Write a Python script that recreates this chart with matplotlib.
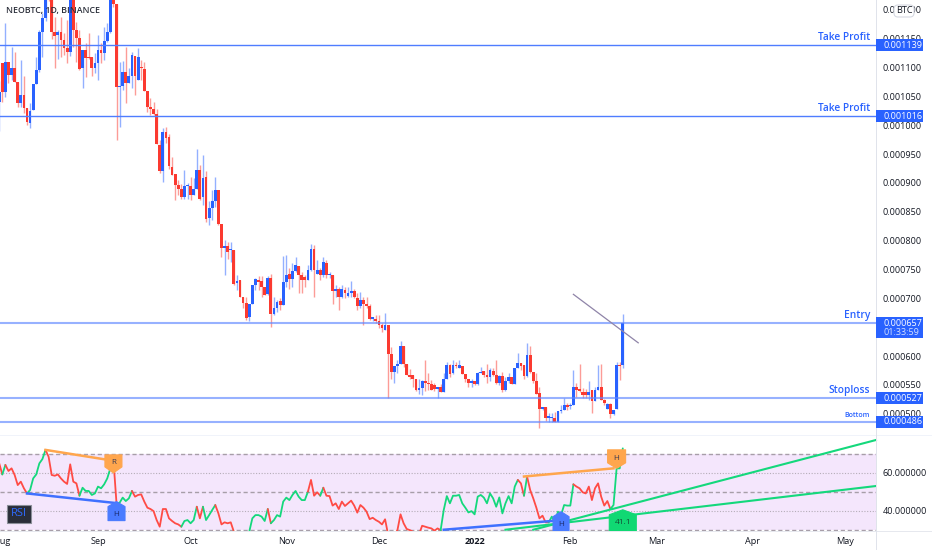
import matplotlib
matplotlib.use("Agg")
import matplotlib.pyplot as plt
import matplotlib.dates as mdates
import numpy as np
import pandas as pd
from matplotlib.patches import Polygon, Rectangle, FancyBboxPatch
from matplotlib.transforms import IdentityTransform

plt.rcParams['font.family'] = ['Open Sans', 'DejaVu Sans']

W, H = 932, 550
# Candles: (open, high, low, close) in millionths of BTC, daily from 2021-07-31
first_day = "2021-07-31"
ohlc_part1 = [
 (1041,1076,990,1058),(1107,1107,1041,1058),(1058,1177,1049,1109),(1109,1109,1073,1087),(1087,1136,1078,1099),
 (1099,1127,1075,1075),(1075,1075,1032,1039),(1039,1113,1032,1052),(1052,1085,1021,1030),(1030,1030,1000,1006),
 (1004,1038,995,1025),(1026,1072,1026,1071),(1071,1119,1071,1096),(1096,1165,1093,1161),(1161,1194,1119,1185),
 (1185,1240,1180,1225),(1245,1260,1215,1225),(1225,1225,1150,1161),(1161,1188,1099,1155),(1156,1165,1114,1161),
 (1161,1188,1119,1148),(1148,1159,1122,1134),(1134,1182,1108,1127),(1127,1240,1120,1230),(1230,1240,1136,1165),
 (1165,1179,1110,1151),(1151,1165,1096,1097),(1099,1131,1064,1131),(1130,1142,1084,1116),(1118,1159,1114,1116),
 (1118,1118,1085,1100),(1100,1125,1090,1107),(1107,1156,1078,1131),(1130,1142,1107,1126),(1126,1171,1113,1146),
 (1146,1177,1145,1161),(1162,1240,1160,1225),(1225,1240,1205,1210),(1210,1210,974,1066),(1066,1110,997,1068),
 (1068,1111,1061,1093),(1093,1136,1038,1074),(1074,1099,1073,1085),(1085,1127,1064,1122),(1120,1120,1052,1085),
 (1078,1133,1078,1119),(1101,1113,1078,1099),(1097,1110,1060,1060),(1060,1060,1023,1032),(1032,1047,1018,1028),
 (1028,1041,1018,1019),(1019,1029,967,967),
]
ohlc_part2 = [
 (966,975,917,920),(921,995,902,988),(988,997,970,978),(980,985,925,929),(928,945,914,914),
 (915,915,871,896),(896,905,879,889),(889,899,873,876),(876,923,873,894),(894,900,873,897),
 (895,911,871,879),(879,908,879,889),(889,958,889,922),(922,931,871,873),(876,948,862,909),
 (910,921,833,838),(839,869,827,856),(856,888,836,868),(868,910,859,888),(888,888,827,829),
 (829,829,771,787),(787,801,740,791),(791,798,769,781),(783,798,763,785),(784,784,723,725),
 (726,741,714,730),(732,732,702,703),(703,703,683,692),(692,703,662,666),(668,691,661,690),
 (690,723,690,723),(723,735,715,733),(732,739,714,729),(730,739,703,720),(719,719,706,706),
 (707,739,706,736),(736,743,651,673),(673,703,671,683),(683,697,677,694),(695,700,679,688),
 (688,774,688,729),(729,775,720,740),(743,752,717,733),(733,762,720,747),(747,771,746,758),
 (756,756,710,740),(740,746,710,732),(737,740,720,732),(732,758,731,749),(749,795,748,785),
 (785,792,703,749),(743,766,743,750),(749,752,732,740),(740,771,737,763),(762,766,735,740),
 (740,746,735,741),(740,740,690,713),(713,723,703,717),(717,720,679,702),(702,723,700,716),
 (715,720,701,709),(704,720,703,710),(710,730,703,713),(713,716,700,702),(700,709,680,687),
 (687,711,683,697),(698,703,654,691),(691,703,683,686),(687,691,662,664),(664,668,660,667),
 (665,671,658,660),(660,671,648,654),(654,658,642,648),(646,674,645,654),
]
ohlc_part3 = [
 (654,654,528,603),(603,616,561,572),(572,583,553,583),(583,593,571,586),(586,626,586,617),
 (617,617,581,586),(586,586,567,567),(567,577,561,563),(567,567,547,560),(560,560,540,541),
 (541,561,535,544),(544,558,532,556),(556,593,540,553),(553,570,541,551),(551,558,542,542),
 (550,553,540,543),(543,547,528,546),(546,551,538,538),(538,570,538,561),(561,590,561,584),
 (584,587,564,569),(570,593,569,584),(584,590,579,582),(580,594,580,584),(583,583,569,569),
 (569,569,555,560),(560,561,546,554),(554,561,546,557),(557,557,550,551),(551,573,550,571),
 (571,581,570,573),(574,574,563,567),(567,586,553,563),(563,579,557,576),(574,579,565,567),
 (567,593,551,553),(553,567,550,565),(565,573,538,541),(541,563,540,557),(557,571,553,564),
 (563,563,551,551),(551,580,551,579),(579,605,579,588),(588,588,576,583),(584,584,561,565),
 (565,623,564,602),(602,617,570,573),(573,573,553,557),(557,570,534,535),(536,547,476,508),
 (509,512,506,512),(512,512,488,492),(492,501,486,496),(492,501,486,493),(492,503,485,486),
 (486,505,485,505),(505,515,501,507),(507,528,506,515),(516,518,506,511),(513,518,509,515),
 (515,576,515,546),(546,553,529,541),(542,587,538,540),(538,544,527,532),(538,543,527,532),
 (532,557,524,538),(542,542,502,523),(523,546,523,542),(542,584,541,547),(547,586,524,524),
 (524,525,515,518),(509,518,508,517),(517,518,492,499),(499,507,498,506),(508,590,508,584),
 (585,590,558,583),(584,673,580,658),
]
rsi_part1 = [64.9,59.1,64.1,60.9,62.3,58.8,53.5,55.3,51.8,49.1,50.9,57.0,59.1,64.9,67.2,72.0,68.4,58.8,58.4,59.1,
 57.0,55.3,54.1,64.4,55.3,54.4,47.9,52.1,50.4,50.4,48.3,49.1,52.7,51.8,53.9,57.0,62.3,66.7,43.9,44.2,
 46.9,45.1,46.5,50.4,47.4,48.3,48.6,44.8,41.6,40.9,39.8,35.1,31.6,40.9,40.9,36.0,34.6,33.4,32.8,31.6,
 34.6,35.1,33.4,35.1,42.1,36.0,42.1,35.1,37.7,40.4,43.0,38.6,32.8,33.9,33.4,33.9,29.0,27.2,25.5,24.6,
 27.2,29.0,36.0,37.7,37.7,36.9,34.6,40.9,33.4,35.1,37.7,36.9,44.8,46.9,45.6,48.3,50.4,47.4,45.6,45.6,
 50.0,56.2,47.9,49.7,47.9]
rsi_part2 = [52.1,47.9,47.7,42.7,43.9,40.9,44.8,42.5,43.9,45.3,42.7,39.0,43.0,41.6,39.5,35.6,36.3,35.1,34.2,32.8,
 35.5,27.2,23.7,27.2,29.8,38.1,33.4,30.4,29.8,29.0,28.1,27.6,32.1,31.6,31.1,30.7,29.5,30.7,29.8,40.4,
 47.7,43.9,47.9,47.9,48.3,43.9,41.6,39.1,39.8,38.1,47.4,48.3,46.9,43.9,49.1,46.5,42.1,47.0,38.6,43.9,
 47.7,43.9,52.7,56.2,54.4,47.9,57.9,50.9,46.5,41.6,36.0,37.4,33.9,33.9,36.9,33.9,39.5,37.7,43.0,42.7,
 42.7,53.9,52.7,51.8,49.7,49.1,52.7,45.6,51.8,54.4,47.4,42.7,45.1,40.9,43.0,62.3,62.3,72.8]
rsi_runs = [(1,'r'),(1,'g'),(7,'r'),(6,'g'),(11,'r'),(11,'g'),(1,'r'),(5,'g'),(16,'r'),(5,'g'),(2,'r'),(4,'g'),(6,'r'),
 (11,'g'),(1,'r'),(12,'g'),(4,'r'),(1,'g'),(38,'r'),(25,'g'),(2,'r'),(1,'g'),(7,'r'),(8,'g'),(12,'r'),(4,'g')]

level_prices = [0.001139, 0.001016, 0.000657, 0.000527, 0.000486]
level_labels = ["Take Profit", "Take Profit", "Entry", "Stoploss", "Bottom"]
price_ticks = [0.0012 - 0.00005 * i for i in range(15)]
rsi_ticks = [60, 40]
month_dates = ["2021-08-01","2021-09-01","2021-10-01","2021-11-01","2021-12-01","2022-01-01","2022-02-01","2022-03-01","2022-04-01","2022-05-01"]
month_labels = ["Aug","Sep","Oct","Nov","Dec","2022","Feb","Mar","Apr","May"]

BLUE, RED = '#2962FF', '#FB3A30'
GREEN, ORANGE = '#14D87C', '#FFA64D'

ohlc = np.array(ohlc_part1 + ohlc_part2 + ohlc_part3, float) * 1e-6
o, hi, lo, c = ohlc.T
rsi = np.array(rsi_part1 + rsi_part2)
dates = pd.date_range(first_day, periods=len(ohlc))
xs = mdates.date2num(dates)
def dn(s): return mdates.date2num(pd.Timestamp(s))

fig = plt.figure(figsize=(W/100, H/100), dpi=100, facecolor='white')
ax = fig.add_axes([0, (H-434)/H, 876/W, 434/H])
ar = fig.add_axes([0, (H-530.5)/H, 876/W, 94/H])

x0 = dn("2021-08-01") - 2.3/3.087
x1 = x0 + 876/3.087
for a in (ax, ar):
    a.set_xlim(x0, x1)
    for s in a.spines.values():
        s.set_visible(False)
    a.yaxis.tick_right()
    a.tick_params(axis='y', length=0, pad=5, labelsize=6.5, labelcolor='#131722')
ax.set_ylim(0.000465, 0.001217)
ar.set_ylim(29.6, 79.05)

# candles
up = c >= o
cols = np.where(up, BLUE, RED)
ax.vlines(xs, lo, hi, colors=cols, lw=1.0, alpha=0.5, zorder=2)
ax.bar(xs, np.maximum(np.abs(c-o), 2.2e-6), bottom=np.minimum(o, c), width=0.9, color=cols, linewidth=0, zorder=3)

# levels
for i, (p, t) in enumerate(zip(level_prices, level_labels)):
    if i < 2:
        ax.axhline(p, color='#4F7DFF', lw=1.0, zorder=4)
    else:
        ax.axhline(p, color='#5F88FF', lw=1.5, alpha=0.65, zorder=4)
# trend line
ax.plot([dn("2022-02-02"), dn("2022-02-23")], [0.000707, 0.000623], color='#8F84A8', lw=0.9, zorder=5)

ax.set_xticks([])
ax.set_yticks(price_ticks)
ax.set_yticklabels([f"{t:.6f}" for t in price_ticks])
ax.text(6/876, 1-11/434, "NEOBTC, 1D, BINANCE", transform=ax.transAxes, fontsize=6.3, fontweight='semibold',
        color='#2A2E39', va='center', ha='left', zorder=8)

# RSI panel
ar.axhspan(30, 70, color='#F4E6FC', lw=0, zorder=0)
for v in (70, 50, 30):
    ar.axhline(v, color='#A79EA8', lw=1.0, ls=(0, (3, 2)), zorder=1)
for v in (60, 40):
    ar.axhline(v, color='#B5ADB8', lw=0.8, ls=(0, (1, 1.5)), zorder=1)
idx = 0
for n, col in rsi_runs:
    ar.plot(xs[idx:idx+n+1], rsi[idx:idx+n+1], color=GREEN if col == 'g' else '#FF4B45', lw=1.3, zorder=3, solid_capstyle='round')
    idx += n
# divergence & trend lines
ar.plot([dn("2021-08-15"), dn("2021-09-06")], [72, 66.3], color=ORANGE, lw=1.8, zorder=4)
ar.plot([dn("2021-08-09"), dn("2021-09-07")], [49.1, 44], color='#3F70FF', lw=1.8, zorder=4)
ar.plot([dn("2022-01-17"), dn("2022-02-15")], [58, 62.3], color=ORANGE, lw=1.8, zorder=4)
ar.plot([dn("2021-12-22"), dn("2022-01-29")], [30, 35], color='#3F70FF', lw=1.8, zorder=4)
ar.plot([dn("2022-01-20"), dn("2022-05-11")], [30, 77.2], color=GREEN, lw=1.5, zorder=4, clip_on=False)
ar.plot([dn("2022-01-11"), dn("2022-05-11")], [30, 53], color=GREEN, lw=1.5, zorder=4)
ar.set_yticks(rsi_ticks)
ar.set_yticklabels([f"{t:.6f}" for t in rsi_ticks])
ar.set_xticks([dn(d) for d in month_dates])
ar.set_xticklabels(month_labels)
ar.tick_params(axis='x', length=0, pad=4.5, labelsize=6.6, labelcolor='#131722')
for lab, txt in zip(ar.get_xticklabels(), month_labels):
    if txt == "2022":
        lab.set_fontweight('bold')
    lab.set_clip_on(False)

# ---- chrome drawn in figure pixels
id_t = IdentityTransform()
def Y(y): return H - y
def fig_rect(x, y, w, h, fc, ec='none', z=10, lw=0):
    r = Rectangle((x, Y(y+h)), w, h, transform=id_t, fc=fc, ec=ec, lw=lw, zorder=z, figure=fig)
    fig.add_artist(r); return r
def fig_text(x, y, s, **kw):
    kw.setdefault('ha', 'left'); kw.setdefault('va', 'center'); kw.setdefault('zorder', 12)
    t = fig.text(x/W, 1-y/H, s, **kw); return t

fig_rect(0, 434.5, W, 1.8, '#F0F3FA', z=6)
fig_rect(0, 530.5, W, 1, '#E6E8EE', z=6)
fig_rect(876, 0, 1, H, '#E0E3EB', z=6)

# level labels & price tags
label_fs = [7.3, 7.3, 7.3, 7.3, 5.0]
for i, (p, t) in enumerate(zip(level_prices, level_labels)):
    y = Y(ax.transData.transform((x0, p))[1])
    fig_text(870, y - (7.5 if i < 4 else 6), t, ha='right', color=BLUE, fontsize=label_fs[i], fontweight='semibold')
    if i == 2:
        fig_rect(876, y-6, 47, 21, BLUE, z=10)
        fig_text(883, y, f"{p:.6f}", color='white', fontsize=6.5)
        fig_text(883, y+9, "01:33:59", color='#D4E0FF', fontsize=6.5)
    else:
        fig_rect(876, y-6, 47, 12, BLUE, z=10)
        fig_text(883, y, f"{p:.6f}", color='white', fontsize=6.5)

# BTC pill
fig.add_artist(FancyBboxPatch((895, Y(16)), 18, 10, boxstyle="round,pad=1,rounding_size=4", transform=id_t,
                              fc='white', ec='#D6D9E2', lw=0.8, zorder=11))
fig_text(904, 10.5, "BTC", ha='center', color='#131722', fontsize=6.6)

# RSI legend
fig_rect(7, 505, 24, 18, '#2A2E39', ec='#8B8F99', z=10, lw=0.8)
fig_text(19, 514, "RSI", ha='center', color='#2F6BFF', fontsize=8)

# signal tags on the RSI pane
def tag(date, val, color, label, down, half, body_h, tip_h, txt_off, txtcol='#3A3A52', fs=5.8):
    px, py = ar.transData.transform((dn(date), val))
    if down:
        pts = [(px-half, py+tip_h+body_h), (px+half, py+tip_h+body_h), (px+half, py+tip_h), (px, py), (px-half, py+tip_h)]
        ty = py + txt_off
    else:
        pts = [(px-half, py-tip_h-body_h), (px+half, py-tip_h-body_h), (px+half, py-tip_h), (px, py), (px-half, py-tip_h)]
        ty = py - txt_off
    poly = Polygon(pts, closed=True, transform=id_t, fc=color, ec=color, lw=0.8, joinstyle='round', zorder=6)
    ar.add_artist(poly)
    poly.set_clip_path(ar.patch)
    return ar.text(px, ty, label, transform=id_t, ha='center', va='center', color=txtcol, fontsize=fs, zorder=7, clip_on=True)

tag("2021-09-06", 59.9, ORANGE, "R", True, 8.5, 12, 6, 10)
tag("2021-09-07", 44.8, '#4A7BFF', "H", False, 8.5, 14, 5, 13, txtcol='#1A2A6C')
tag("2022-01-29", 39.5, '#4A7BFF', "H", False, 8, 16, 5, 13, txtcol='#1A2A6C')
tag("2022-02-16", 62.3, ORANGE, "H", True, 9, 13, 5.5, 10)
tag("2022-02-18", 40.5, '#10D873', "41.1", False, 13.5, 22, 5, 13, txtcol='#144B36', fs=6.0)

fig.savefig("out.png", dpi=100, facecolor='white')
